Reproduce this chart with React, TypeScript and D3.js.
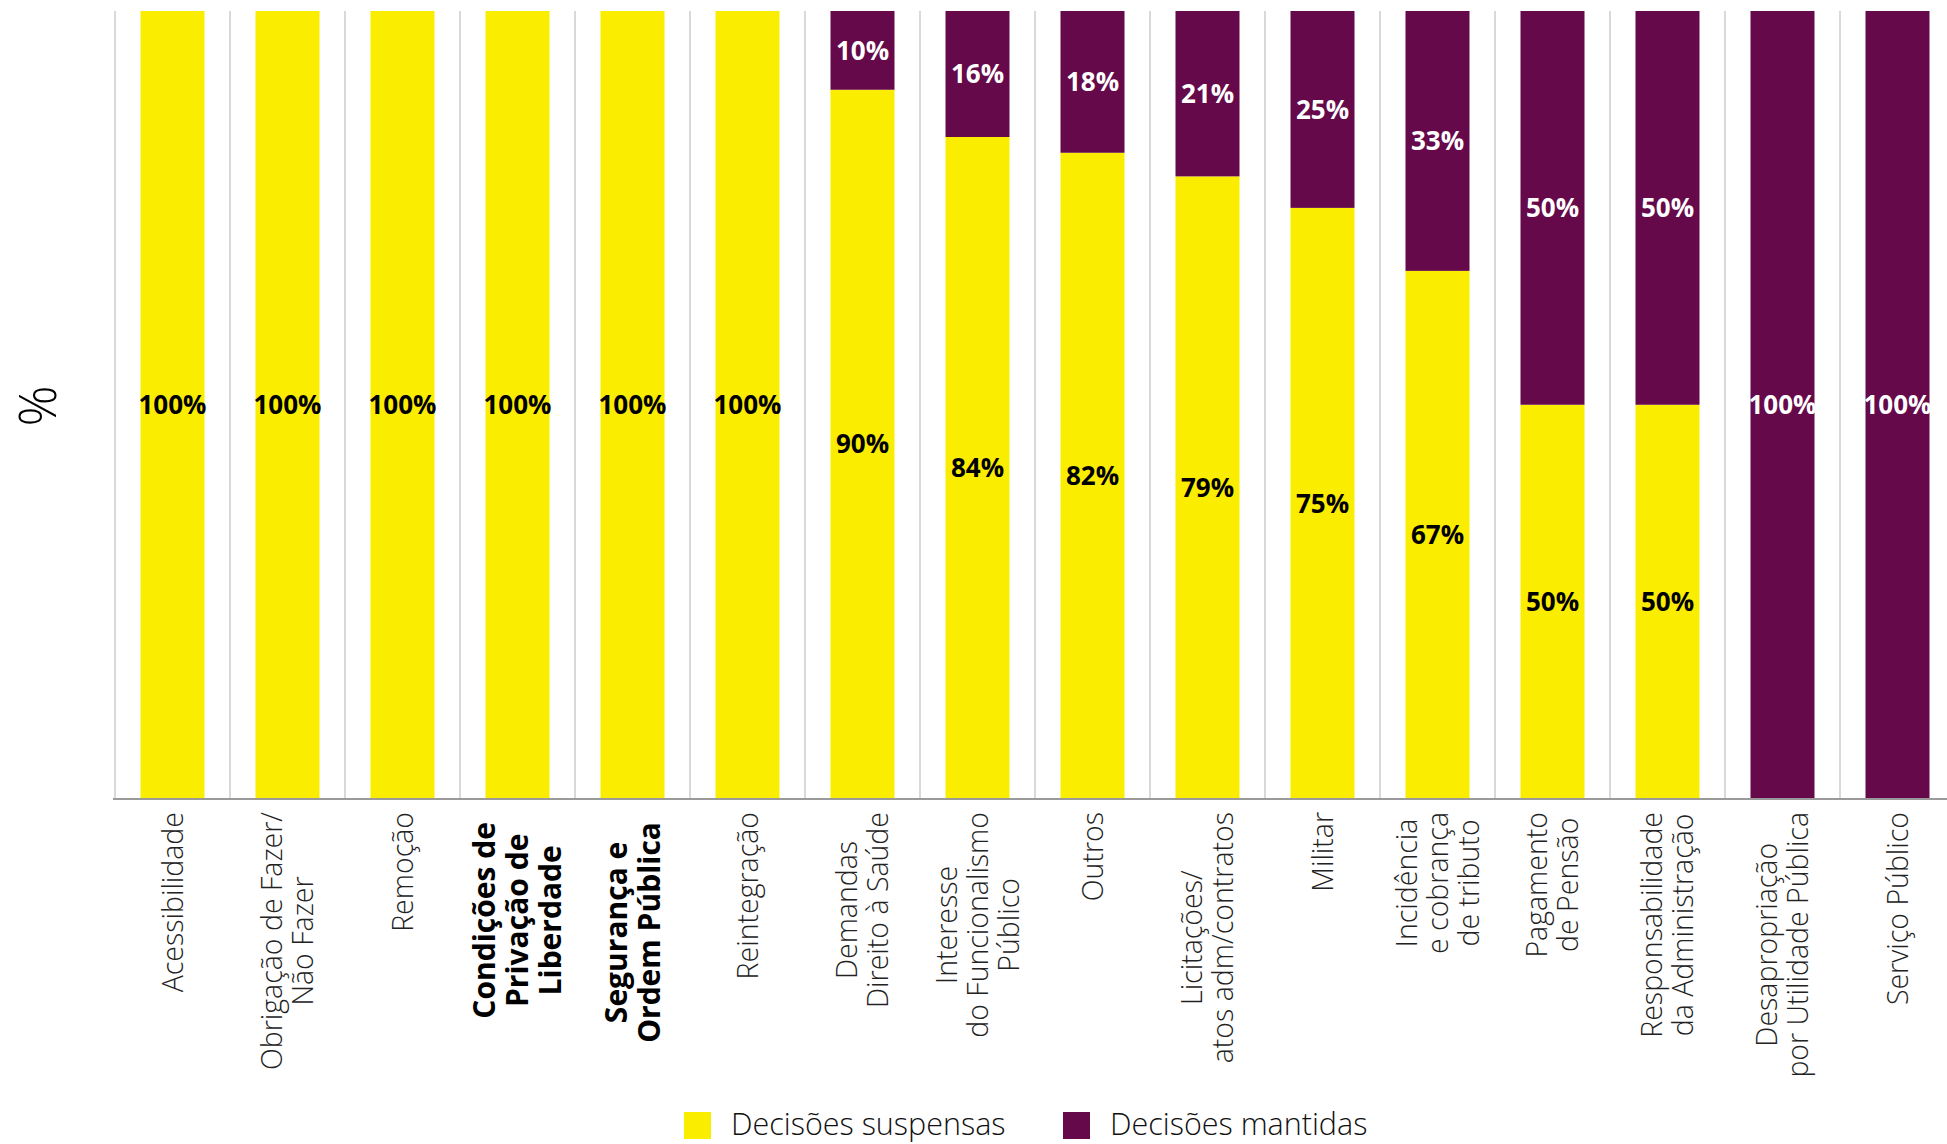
import React, { useEffect, useRef } from 'react';
import * as d3 from 'd3';

const categories: string[] = [
  'Acessibilidade',
  'Obrigação de Fazer/\nNão Fazer',
  'Remoção',
  'Condições de\nPrivação de\nLiberdade',
  'Segurança e\nOrdem Pública',
  'Reintegração',
  'Demandas\nDireito à Saúde',
  'Interesse\ndo Funcionalismo\nPúblico',
  'Outros',
  'Licitações/\natos adm/contratos',
  'Militar',
  'Incidência\ne cobrança\nde tributo',
  'Pagamento\nde Pensão',
  'Responsabilidade\nda Administração',
  'Desapropriação\npor Utilidade Pública',
  'Serviço Público',
];
const boldCategories: string[] = ['Condições de\nPrivação de\nLiberdade', 'Segurança e\nOrdem Pública'];
const suspensas: number[] = [100, 100, 100, 100, 100, 100, 90, 84, 82, 79, 75, 67, 50, 50, 0, 0];
const mantidas: number[] = [0, 0, 0, 0, 0, 0, 10, 16, 18, 21, 25, 33, 50, 50, 100, 100];
const seriesNames: string[] = ['Decisões suspensas', 'Decisões mantidas'];
const seriesKeys: string[] = ['suspensas', 'mantidas'];
const seriesColors: string[] = ['#FAED00', '#65094A'];
const labelColors: string[] = ['#000000', '#FFFFFF'];
const yAxisLabel = '%';

const FONT = "'Open Sans', 'DejaVu Sans', sans-serif";

export default function App() {
  const ref = useRef<SVGSVGElement>(null);
  useEffect(() => {
    const svg = d3.select(ref.current);
    svg.selectAll('*').remove();
    const n = categories.length;
    const x0 = 115;
    const step = 115;
    const pad = 51 / 115;
    const band = d3.scaleBand<string>().domain(categories).range([x0, x0 + step * n]).paddingInner(pad).paddingOuter(pad / 2);
    const slot = d3.scaleBand<string>().domain(categories).range([x0, x0 + step * n]).padding(0);
    const y = d3.scaleLinear().domain([0, 100]).range([798.5, 11]);

    // gridlines
    svg.append('g').selectAll('line').data(categories).join('line')
      .attr('x1', d => slot(d)!).attr('x2', d => slot(d)!)
      .attr('y1', y(100)).attr('y2', y(0))
      .attr('stroke', '#d9d9d9').attr('stroke-width', 2);

    const rows = categories.map((c, i) => ({ cat: c, suspensas: suspensas[i], mantidas: mantidas[i] }));
    const stacked = d3.stack<any>().keys(seriesKeys)(rows);

    stacked.forEach((layer, li) => {
      const g = svg.append('g');
      g.selectAll('rect').data(layer.filter(d => d[1] - d[0] > 0)).join('rect')
        .attr('x', d => band(d.data.cat)!)
        .attr('width', band.bandwidth())
        .attr('y', d => y(d[1]))
        .attr('height', d => y(d[0]) - y(d[1]))
        .attr('fill', seriesColors[li]);
    });
    stacked.forEach((layer, li) => {
      const g = svg.append('g');
      g.selectAll('text').data(layer.filter(d => d[1] - d[0] > 0)).join('text')
        .attr('x', d => band(d.data.cat)! + band.bandwidth() / 2)
        .attr('y', d => (y(d[0]) + y(d[1])) / 2)
        .attr('dy', '0.36em')
        .attr('text-anchor', 'middle')
        .attr('font-family', FONT)
        .attr('font-weight', 700)
        .attr('font-size', 26)
        .attr('fill', labelColors[li])
        .text(d => `${d[1] - d[0]}%`);
    });

    // axis line
    svg.append('line').attr('x1', 113).attr('x2', 1947).attr('y1', 799).attr('y2', 799)
      .attr('stroke', '#9a9a9a').attr('stroke-width', 2);

    // category labels
    categories.forEach(c => {
      const lines = c.split('\n');
      const bold = boldCategories.includes(c);
      const cx = slot(c)! + slot.bandwidth() / 2;
      const g = svg.append('g').attr('transform', `translate(${cx},${bold ? 822 : 812}) rotate(-90)`);
      const lh = bold ? 33 : 31;
      const texts = lines.map((ln, i) => g.append('text')
        .attr('y', (i - (lines.length - 1) / 2) * lh)
        .attr('dy', '0.36em')
        .attr('text-anchor', 'middle')
        .attr('font-family', FONT)
        .attr('font-weight', bold ? 700 : 300)
        .attr('font-size', bold ? 30 : 28.5)
        .attr('fill', bold ? '#000' : '#222')
        .text(ln));
      const maxW = d3.max(texts, t => (t.node() as SVGTextElement).getComputedTextLength()) || 0;
      texts.forEach(t => t.attr('x', -maxW / 2));
    });

    // y label
    svg.append('text')
      .attr('transform', `translate(38,406) rotate(-90)`)
      .attr('text-anchor', 'middle').attr('dy', '0.36em')
      .attr('font-family', FONT).attr('font-weight', 300).attr('font-size', 51)
      .attr('fill', '#000').text(yAxisLabel);

    // legend
    const legendX = [684, 1063];
    seriesNames.forEach((name, i) => {
      svg.append('rect').attr('x', legendX[i]).attr('y', 1112).attr('width', 27).attr('height', 27).attr('fill', seriesColors[i]);
      svg.append('text').attr('x', legendX[i] + 47).attr('y', 1135)
        .attr('font-family', FONT).attr('font-weight', 300).attr('font-size', 30.5)
        .attr('fill', '#111').text(name);
    });
  }, []);
  return <svg ref={ref} width={1947} height={1144} style={{ position: 'absolute', left: 0, top: 0, background: '#fff' }} />;
}
